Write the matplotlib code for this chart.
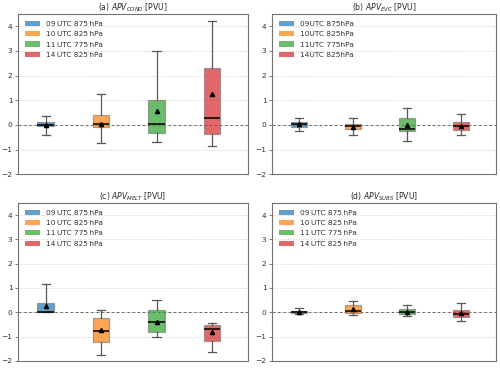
import matplotlib
matplotlib.use("Agg")
import matplotlib.pyplot as plt
from matplotlib.patches import Patch

# legend labels for the four soundings
LABELS = ["09\u2009UTC 875\u2009hPa", "10\u2009UTC 825\u2009hPa",
          "11\u2009UTC 775\u2009hPa", "14\u2009UTC 825\u2009hPa"]
LABELS_B = ["09UTC 875hPa", "10UTC 825hPa", "11UTC 775hPa", "14UTC 825hPa"]
COLORS = ["tab:blue", "tab:orange", "tab:green", "tab:red"]

TITLES = [r"(a) $APV_{COND}$ [PVU]", r"(b) $APV_{EVC}$ [PVU]",
          r"(c) $APV_{MELT}$ [PVU]", r"(d) $APV_{SUBS}$ [PVU]"]

# per panel: [whislo, q1, med, q3, whishi, mean] for each box
STATS_A = [[-0.42, -0.04, 0.0, 0.10, 0.37, -0.02],
           [-0.73, -0.07, 0.04, 0.39, 1.25, 0.05],
           [-0.69, -0.33, 0.03, 1.00, 3.00, 0.56],
           [-0.86, -0.35, 0.26, 2.31, 4.22, 1.27]]
STATS_B = [[-0.26, -0.08, 0.04, 0.12, 0.26, 0.03],
           [-0.39, -0.16, -0.05, 0.05, 0.26, -0.07],
           [-0.64, -0.23, -0.15, 0.30, 0.67, -0.01],
           [-0.39, -0.20, -0.05, 0.10, 0.45, -0.03]]
STATS_C = [[0.0, 0.0, 0.0, 0.37, 1.16, 0.24],
           [-1.76, -1.24, -0.79, -0.24, 0.10, -0.73],
           [-1.03, -0.82, -0.39, 0.10, 0.50, -0.38],
           [-1.62, -1.18, -0.67, -0.52, -0.44, -0.83]]
STATS_D = [[-0.05, -0.01, 0.01, 0.04, 0.16, 0.03],
           [-0.12, -0.04, 0.07, 0.29, 0.46, 0.14],
           [-0.16, -0.08, 0.0, 0.14, 0.29, 0.03],
           [-0.35, -0.20, -0.07, 0.10, 0.38, -0.03]]


def make_stats(rows):
    out = []
    for lo, q1, med, q3, hi, mean in rows:
        out.append(dict(whislo=lo, q1=q1, med=med, q3=q3, whishi=hi,
                        mean=mean, fliers=[]))
    return out


def draw_panel(ax, rows, title, labels):
    bp = ax.bxp(make_stats(rows), positions=[1, 2, 3, 4], widths=0.3,
                patch_artist=True, showmeans=True, showfliers=False,
                boxprops=dict(edgecolor="0.5", linewidth=0.9),
                whiskerprops=dict(color="0.35", linewidth=0.9),
                capprops=dict(color="0.35", linewidth=0.9),
                medianprops=dict(color="black", linewidth=1.1),
                meanprops=dict(marker="^", markerfacecolor="black",
                               markeredgecolor="black", markersize=3))
    for box, c in zip(bp["boxes"], COLORS):
        box.set_facecolor(c)
        box.set_alpha(0.7)

    ax.axhline(0, color="0.3", linestyle="--", linewidth=0.7, zorder=0)
    ax.set_ylim(-2, 4.5)
    ax.set_xlim(0.5, 4.65)
    ax.set_yticks(range(-2, 5))
    ax.yaxis.grid(True, linestyle=":", color="0.8", linewidth=0.7)
    ax.set_axisbelow(True)
    ax.set_xticks([])
    ax.tick_params(axis="y", labelsize=5.4, length=2.5, width=0.6,
                   color="0.4", labelcolor="0.2", pad=1.5)
    for sp in ax.spines.values():
        sp.set_color("0.45")
        sp.set_linewidth(0.8)
    ax.set_title(title, fontsize=5.5, pad=2.5, color="0.15")

    handles = [Patch(facecolor=c, alpha=0.7, label=l)
               for c, l in zip(COLORS, labels)]
    ax.legend(handles=handles, loc="upper left", frameon=False,
              fontsize=5.3, handlelength=2.0, handleheight=0.7,
              labelspacing=0.55, borderaxespad=0.55, labelcolor="0.2")


fig = plt.figure(figsize=(5.0, 3.69), dpi=100)
w, h = 0.46, 0.434
ax_a = fig.add_axes([0.036, 0.528, w, h])
ax_b = fig.add_axes([0.544, 0.528, w - 0.012, h])
ax_c = fig.add_axes([0.036, 0.022, w, h - 0.006])
ax_d = fig.add_axes([0.544, 0.022, w - 0.012, h - 0.006])

draw_panel(ax_a, STATS_A, TITLES[0], LABELS)
draw_panel(ax_b, STATS_B, TITLES[1], LABELS_B)
draw_panel(ax_c, STATS_C, TITLES[2], LABELS)
draw_panel(ax_d, STATS_D, TITLES[3], LABELS)

fig.savefig("out.png", dpi=100)
